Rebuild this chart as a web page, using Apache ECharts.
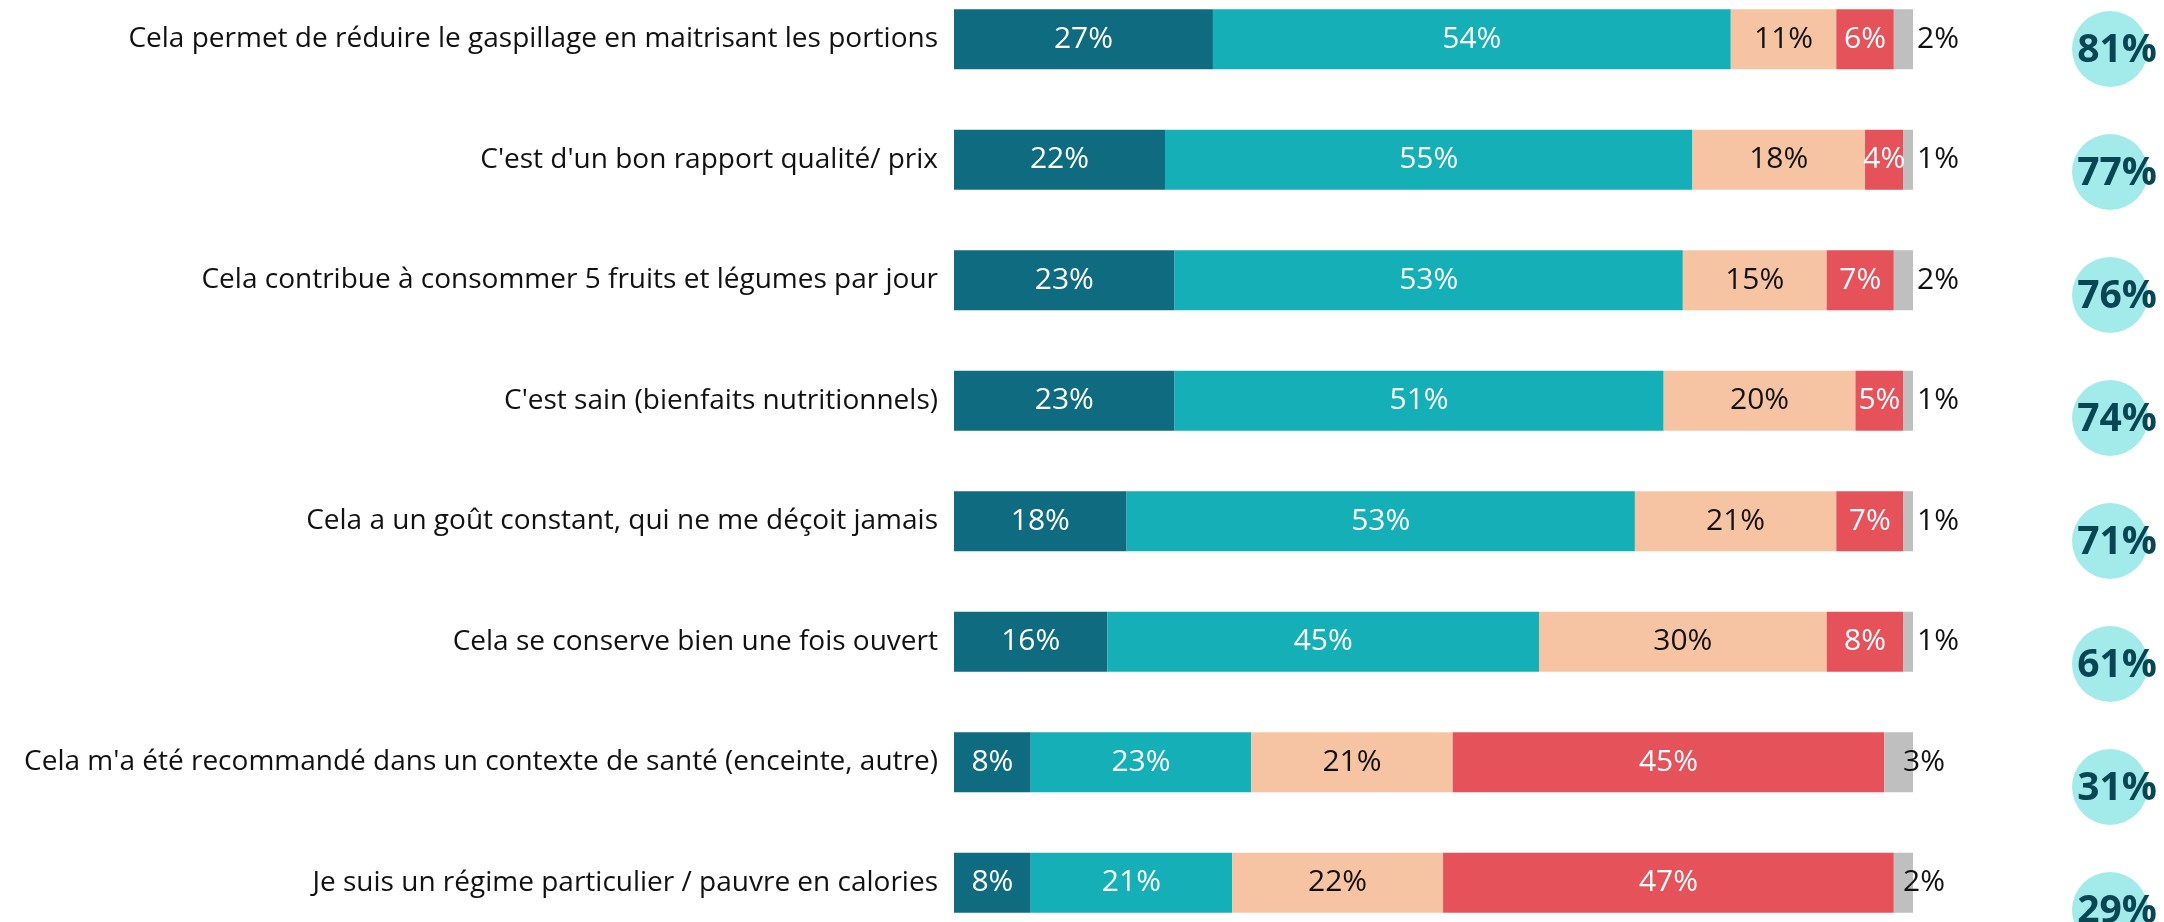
<!DOCTYPE html>
<html>
<head>
<meta charset="utf-8">
<title>Raisons d'achat</title>
<script src="https://cdn.jsdelivr.net/npm/echarts@6/dist/echarts.min.js"></script>
<style>
  html, body { margin: 0; padding: 0; background: #fff; }
  #chart { width: 2164px; height: 922px; }
</style>
</head>
<body>
<div id="chart"></div>
<script>
// statements, top to bottom
var categories = [
  'Cela permet de réduire le gaspillage en maitrisant les portions',
  "C'est d'un bon rapport qualité/ prix",
  'Cela contribue à consommer 5 fruits et légumes par jour',
  "C'est sain (bienfaits nutritionnels)",
  'Cela a un goût constant, qui ne me déçoit jamais',
  'Cela se conserve bien une fois ouvert',
  "Cela m'a été recommandé dans un contexte de santé (enceinte, autre)",
  'Je suis un régime particulier / pauvre en calories'
];

var toutAFait   = [27, 22, 23, 23, 18, 16, 8, 8];
var plutot      = [54, 55, 53, 51, 53, 45, 23, 21];
var plutotPas   = [11, 18, 15, 20, 21, 30, 21, 22];
var pasDuTout   = [6, 4, 7, 5, 7, 8, 45, 47];
var nsp         = [2, 1, 2, 1, 1, 1, 3, 2];
var totalAccord = [81, 77, 76, 74, 71, 61, 31, 29];

var FONT = '"Open Sans", sans-serif';

function segment(name, values, color, textColor) {
  return {
    name: name,
    type: 'bar',
    stack: 'all',
    barWidth: 60,
    xAxisIndex: 0,
    yAxisIndex: 0,
    itemStyle: { color: color },
    label: {
      show: true,
      position: 'inside',
      color: textColor,
      fontFamily: FONT,
      fontSize: 30,
      formatter: '{c}%'
    },
    data: values
  };
}

// the last two "nsp" labels sit over the grey piece in the original
var nspData = nsp.map(function (v, i) {
  return i >= 6 ? { value: v, label: { offset: [-14, 0] } } : v;
});

var chart = echarts.init(document.getElementById('chart'));

chart.setOption({
  animation: false,
  grid: [
    { left: 954, right: 251, top: -21, height: 964, outerBoundsMode: 'none', containLabel: false },
    { left: 2072, width: 76, top: -12.5, height: 984, outerBoundsMode: 'none', containLabel: false }
  ],
  xAxis: [
    { type: 'value', gridIndex: 0, min: 0, max: 100, show: false },
    { type: 'category', gridIndex: 1, data: ['total'], show: false }
  ],
  yAxis: [
    {
      type: 'category',
      gridIndex: 0,
      inverse: true,
      data: categories,
      axisLine: { show: false },
      axisTick: { show: false },
      splitLine: { show: false },
      axisLabel: {
        margin: 16,
        color: '#111',
        fontFamily: FONT,
        fontSize: 28
      }
    },
    {
      type: 'category',
      gridIndex: 1,
      inverse: true,
      data: categories,
      show: false
    }
  ],
  series: [
    segment("Tout à fait d'accord", toutAFait, '#0e6b80', '#fff'),
    segment("Plutôt d'accord", plutot, '#14afb7', '#fff'),
    segment("Plutôt pas d'accord", plutotPas, '#f7c4a3', '#111'),
    segment("Pas du tout d'accord", pasDuTout, '#e5525a', '#fff'),
    {
      name: 'NSP',
      type: 'bar',
      stack: 'all',
      barWidth: 60,
      itemStyle: { color: '#bfbfbf' },
      label: {
        show: true,
        position: 'right',
        distance: 4,
        color: '#111',
        fontFamily: FONT,
        fontSize: 30,
        formatter: '{c}%'
      },
      data: nspData
    },
    {
      name: 'Total accord',
      type: 'scatter',
      xAxisIndex: 1,
      yAxisIndex: 1,
      symbol: 'circle',
      symbolSize: 76,
      itemStyle: { color: '#a3ebeb', opacity: 1 },
      label: {
        show: true,
        position: 'inside',
        offset: [7, 2],
        color: '#084654',
        fontFamily: FONT,
        fontWeight: 'bold',
        fontSize: 39,
        formatter: function (p) { return p.value[2] + '%'; }
      },
      data: categories.map(function (c, i) {
        return ['total', c, totalAccord[i]];
      })
    }
  ]
});
</script>
</body>
</html>
